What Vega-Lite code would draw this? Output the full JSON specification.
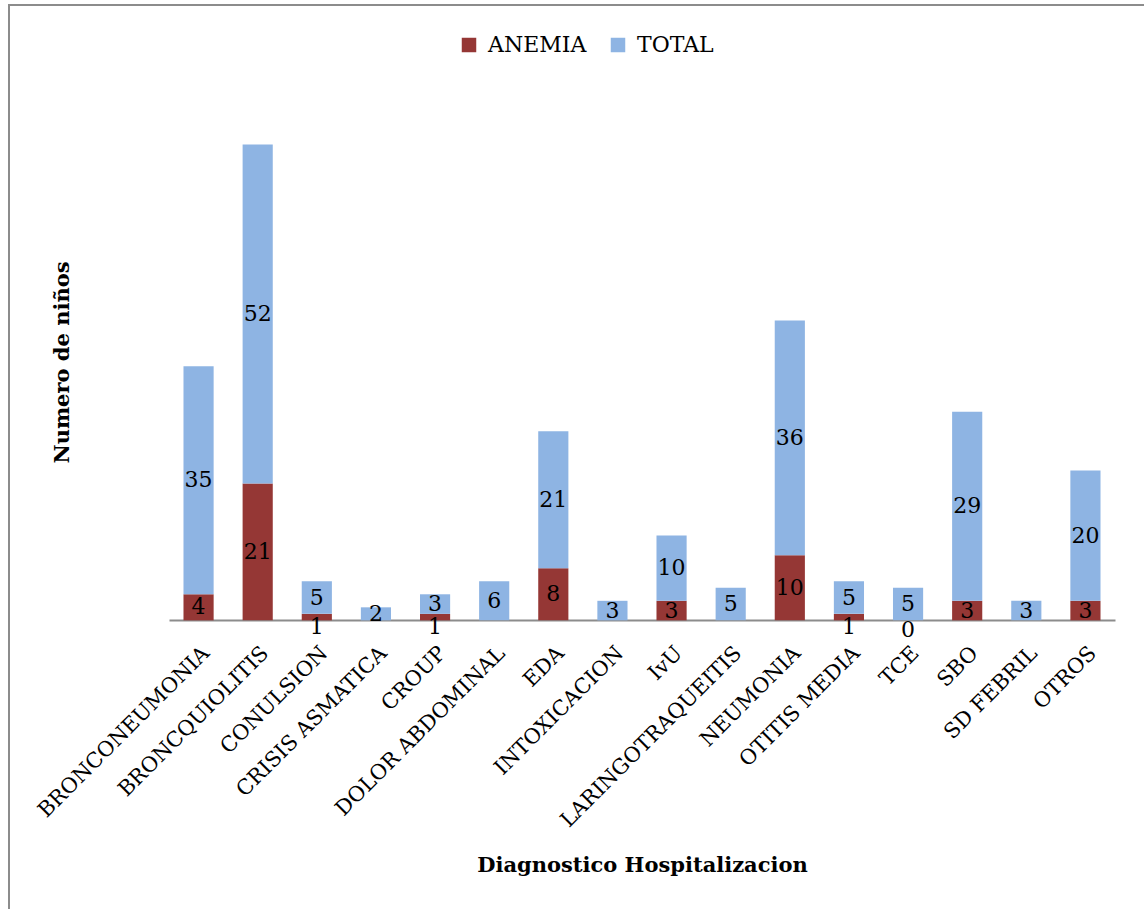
{
  "$schema": "https://vega.github.io/schema/vega-lite/v6.json",
  "autosize": "none",
  "padding": {"left": 9, "top": 5, "right": 0, "bottom": 0},
  "width": 1140,
  "height": 910,
  "background": "white",
  "config": {
    "font": "DejaVu Serif",
    "view": {"stroke": "#8c8c8c", "strokeWidth": 2}
  },
  "data": {
    "values": [
      {"diagnostico": "BRONCONEUMONIA", "serie": "ANEMIA", "valor": 4},
      {"diagnostico": "BRONCONEUMONIA", "serie": "TOTAL", "valor": 35},
      {"diagnostico": "BRONCQUIOLITIS", "serie": "ANEMIA", "valor": 21},
      {"diagnostico": "BRONCQUIOLITIS", "serie": "TOTAL", "valor": 52},
      {"diagnostico": "CONULSION", "serie": "ANEMIA", "valor": 1},
      {"diagnostico": "CONULSION", "serie": "TOTAL", "valor": 5},
      {"diagnostico": "CRISIS ASMATICA", "serie": "TOTAL", "valor": 2},
      {"diagnostico": "CROUP", "serie": "ANEMIA", "valor": 1},
      {"diagnostico": "CROUP", "serie": "TOTAL", "valor": 3},
      {"diagnostico": "DOLOR ABDOMINAL", "serie": "TOTAL", "valor": 6},
      {"diagnostico": "EDA", "serie": "ANEMIA", "valor": 8},
      {"diagnostico": "EDA", "serie": "TOTAL", "valor": 21},
      {"diagnostico": "INTOXICACION", "serie": "TOTAL", "valor": 3},
      {"diagnostico": "IvU", "serie": "ANEMIA", "valor": 3},
      {"diagnostico": "IvU", "serie": "TOTAL", "valor": 10},
      {"diagnostico": "LARINGOTRAQUEITIS", "serie": "TOTAL", "valor": 5},
      {"diagnostico": "NEUMONIA", "serie": "ANEMIA", "valor": 10},
      {"diagnostico": "NEUMONIA", "serie": "TOTAL", "valor": 36},
      {"diagnostico": "OTITIS MEDIA", "serie": "ANEMIA", "valor": 1},
      {"diagnostico": "OTITIS MEDIA", "serie": "TOTAL", "valor": 5},
      {"diagnostico": "TCE", "serie": "ANEMIA", "valor": 0},
      {"diagnostico": "TCE", "serie": "TOTAL", "valor": 5},
      {"diagnostico": "SBO", "serie": "ANEMIA", "valor": 3},
      {"diagnostico": "SBO", "serie": "TOTAL", "valor": 29},
      {"diagnostico": "SD FEBRIL", "serie": "TOTAL", "valor": 3},
      {"diagnostico": "OTROS", "serie": "ANEMIA", "valor": 3},
      {"diagnostico": "OTROS", "serie": "TOTAL", "valor": 20}
    ]
  },
  "transform": [
    {"stack": "valor", "groupby": ["diagnostico"], "sort": [{"field": "serie", "order": "ascending"}], "as": ["v0", "v1"]},
    {"calculate": "(datum.v0 + datum.v1) / 2", "as": "medio"}
  ],
  "encoding": {
    "x": {
      "field": "diagnostico",
      "type": "nominal",
      "sort": ["BRONCONEUMONIA", "BRONCQUIOLITIS", "CONULSION", "CRISIS ASMATICA", "CROUP", "DOLOR ABDOMINAL", "EDA", "INTOXICACION", "IvU", "LARINGOTRAQUEITIS", "NEUMONIA", "OTITIS MEDIA", "TCE", "SBO", "SD FEBRIL", "OTROS"],
      "scale": {"range": [160, 1106], "paddingInner": 0.49, "paddingOuter": 0.245},
      "axis": {
        "title": "Diagnostico Hospitalizacion",
        "titleFont": "DejaVu Serif",
        "titleFontSize": 21,
        "titleFontWeight": "bold",
        "titleColor": "black",
        "titleY": 245,
        "titleBaseline": "middle",
        "offset": -295,
        "domainColor": "#8c8c8c",
        "domainWidth": 2,
        "ticks": false,
        "labelAngle": -45,
        "labelAlign": "right",
        "labelBaseline": "top",
        "labelPadding": 22,
        "labelDx": -3,
        "labelFont": "DejaVu Serif",
        "labelFontSize": 21,
        "labelColor": "black",
        "labelLimit": 400
      }
    }
  },
  "layer": [
    {
      "mark": {"type": "bar"},
      "encoding": {
        "y": {
          "field": "v0",
          "type": "quantitative",
          "scale": {"domain": [-45.2, 94.4], "nice": false, "zero": false},
          "axis": {
            "title": "Numero de niños",
            "titleFont": "DejaVu Serif",
            "titleFontSize": 21,
            "titleFontWeight": "bold",
            "titleColor": "black",
            "titleX": 53,
            "titleY": 357,
            "titleBaseline": "middle",
            "titleAngle": -90,
            "labels": false,
            "ticks": false,
            "domain": false,
            "grid": false
          }
        },
        "y2": {"field": "v1"},
        "color": {
          "field": "serie",
          "type": "nominal",
          "scale": {"domain": ["ANEMIA", "TOTAL"], "range": ["#953735", "#8EB4E3"]},
          "legend": {
            "title": null,
            "orient": "none",
            "legendX": 449,
            "legendY": 29,
            "direction": "horizontal",
            "symbolType": "square",
            "symbolSize": 210,
            "symbolStrokeWidth": 0,
            "labelFont": "DejaVu Serif",
            "labelFontSize": 22,
            "labelColor": "black",
            "columnPadding": 20,
            "labelOffset": 8
          }
        }
      }
    },
    {
      "transform": [{"filter": "!(datum.serie === 'ANEMIA' && datum.valor <= 1)"}],
      "mark": {"type": "text", "font": "DejaVu Serif", "fontSize": 22, "color": "black", "baseline": "middle", "align": "center"},
      "encoding": {
        "y": {"field": "medio", "type": "quantitative"},
        "text": {"field": "valor", "type": "quantitative"}
      }
    },
    {
      "transform": [{"filter": "datum.serie === 'ANEMIA' && datum.valor <= 1"}],
      "mark": {"type": "text", "font": "DejaVu Serif", "fontSize": 22, "color": "black", "baseline": "middle", "align": "center", "dy": 10},
      "encoding": {
        "y": {"field": "medio", "type": "quantitative"},
        "text": {"field": "valor", "type": "quantitative"}
      }
    }
  ]
}
